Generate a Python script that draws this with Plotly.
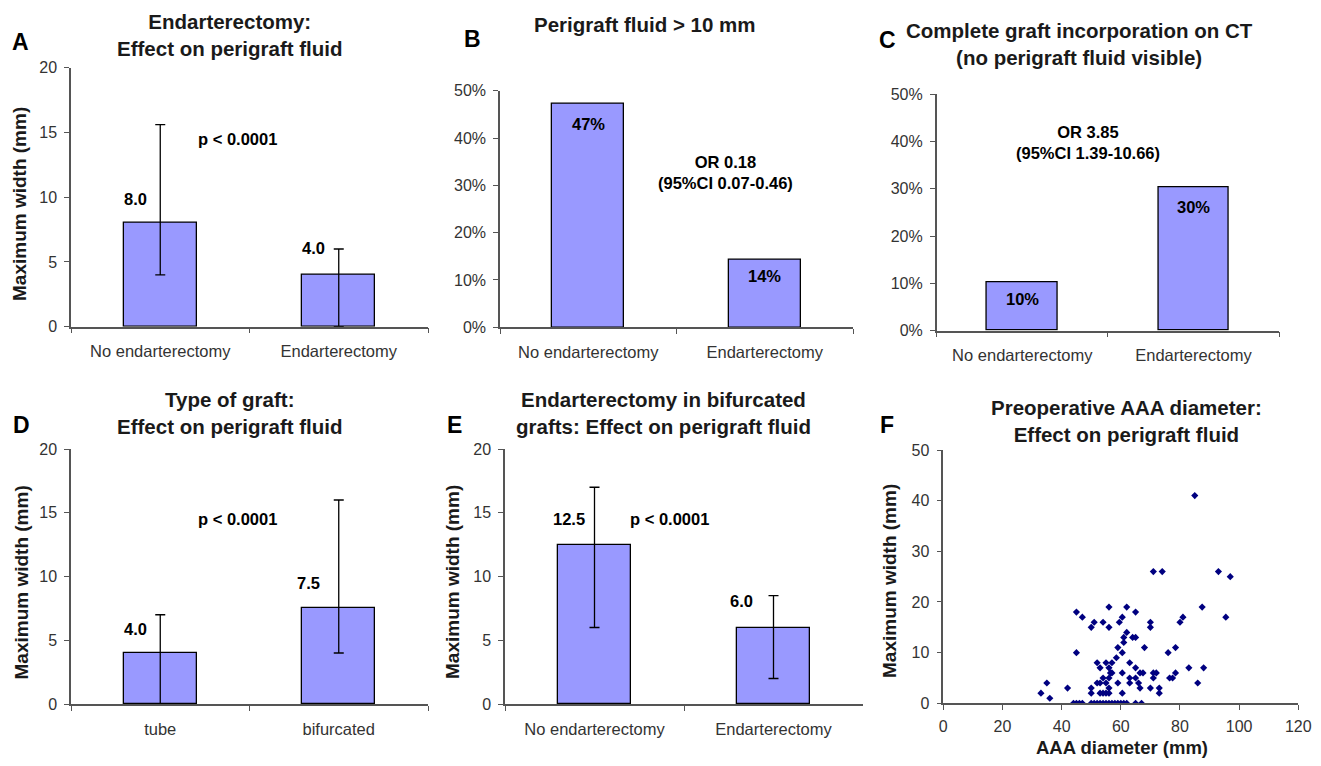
import plotly.graph_objects as go

W, H = 1321, 766          # target picture size
OFF = 8                   # default page margin around the figure div
FW, FH = W - 2 * OFF, H - 2 * OFF

# ---------------- data ----------------
cats_endo = ["No endarterectomy", "Endarterectomy"]
cats_graft = ["tube", "bifurcated"]

a_vals = [8.0, 4.0]
a_hi = [15.6, 6.0]
a_lo = [4.0, 0.0]

b_vals = [0.472, 0.142]
c_vals = [0.102, 0.303]

d_vals = [4.0, 7.5]
d_hi = [7.0, 16.0]
d_lo = [0.0, 4.0]

e_vals = [12.5, 6.0]
e_hi = [17.0, 8.5]
e_lo = [6.0, 2.0]

f_diam = [33, 35, 36, 42, 45, 47, 45,
          44, 45, 46, 47, 50, 51, 52, 53, 54, 55, 56, 57, 58, 59, 60, 61, 62, 65, 67,
          50, 53, 54, 55, 56, 60.5, 73,
          50, 56, 66.5, 70, 73,
          52, 53, 55, 59, 63, 66, 86,
          54, 56, 63, 65, 71, 76.5, 77.5,
          56.5, 57, 60.5, 66.5, 67.5, 71, 72, 78.5,
          53, 56, 65, 83, 88,
          52, 55, 57, 63,
          58.5,
          60.5, 76,
          59, 68, 78.5,
          61,
          61, 64, 65,
          62,
          50, 56, 70,
          51, 54, 59.5, 70, 80,
          60.5, 81, 95.5,
          65,
          56, 62, 87.5,
          97,
          71, 74, 93,
          85]
f_width = [2, 4, 1, 3, 18, 17, 10,
           0, 0, 0, 0, 0, 0, 0, 0, 0, 0, 0, 0, 0, 0, 0, 0, 0, 0, 0,
           2, 2, 2, 2, 2, 2, 2,
           3, 3, 3, 3, 3,
           4, 4, 4, 4, 4, 4, 4,
           5, 5, 5, 5, 5, 5, 5,
           6, 6, 6, 6, 6, 6, 6, 6,
           7, 7, 7, 7, 7,
           8, 8, 8, 8,
           9,
           10, 10,
           11, 11, 11,
           12,
           13, 13, 13,
           14,
           15, 15, 15,
           16, 16, 16, 16, 16,
           17, 17, 17,
           18,
           19, 19, 19,
           25,
           26, 26, 26,
           41]

# ---------------- styling ----------------
FONT = "Liberation Sans, Arial, sans-serif"
BAR_FILL = "#9999FF"
AX_COL = "#555555"
TICK_COL = "#333333"
TXT = "#1a1a1a"


def px_x(x):
    return (x - OFF) / FW


def px_y(y):
    return 1 - (y - OFF) / FH


def dom_x(x0, x1):
    return [px_x(x0), px_x(x1)]


def dom_y(y0, y1):
    return [px_y(y1), px_y(y0)]


panels = {
    1: (dom_x(71, 428), dom_y(67.7, 326.7)),
    2: (dom_x(500, 853), dom_y(90.7, 327.3)),
    3: (dom_x(936.7, 1279), dom_y(94.3, 330.7)),
    4: (dom_x(71, 428), dom_y(449, 704)),
    5: (dom_x(505, 863), dom_y(449, 704)),
    6: (dom_x(943.3, 1298.3), dom_y(450, 703.3)),
}

fig = go.Figure()


def add_bar(i, cats, vals, hi=None, lo=None):
    kw = {}
    if hi is not None:
        kw["error_y"] = dict(type="data", symmetric=False,
                             array=[h - v for h, v in zip(hi, vals)],
                             arrayminus=[v - l for v, l in zip(vals, lo)],
                             color="black", thickness=1.3, width=5)
    fig.add_trace(go.Bar(x=cats, y=vals, width=0.41,
                         marker=dict(color=BAR_FILL, line=dict(color="black", width=1.3)),
                         xaxis=f"x{i}", yaxis=f"y{i}", showlegend=False, **kw))


add_bar(1, cats_endo, a_vals, a_hi, a_lo)
add_bar(2, cats_endo, b_vals)
add_bar(3, cats_endo, c_vals)
add_bar(4, cats_graft, d_vals, d_hi, d_lo)
add_bar(5, cats_endo, e_vals, e_hi, e_lo)

fig.add_trace(go.Scatter(x=f_diam, y=f_width, mode="markers",
                         marker=dict(symbol="diamond", size=5.5, color="#000080"),
                         xaxis="x6", yaxis="y6", showlegend=False))

layout = dict(width=FW, height=FH, margin=dict(l=0, r=0, t=0, b=0),
              paper_bgcolor="white", plot_bgcolor="white",
              font=dict(family=FONT, color=TICK_COL), bargap=0)

common = dict(showline=True, linecolor=AX_COL, linewidth=1.5, ticks="outside",
              ticklen=5, tickwidth=1.3, tickcolor=AX_COL, showgrid=False,
              zeroline=False, fixedrange=True, automargin=False)

for i, (dx, dy) in panels.items():
    xa = dict(common, domain=dx, anchor=f"y{i}")
    ya = dict(common, domain=dy, anchor=f"x{i}",
              tickfont=dict(size=16, color=TICK_COL), ticklabelstandoff=4)
    if i < 6:
        xa.update(type="category", range=[-0.5, 1.5], tickson="boundaries",
                  tickfont=dict(size=16.5, color=TICK_COL), ticklabelstandoff=9)
    else:
        xa.update(range=[0, 120], dtick=20, tickfont=dict(size=16, color=TICK_COL),
                  ticklabelstandoff=3)
    if i in (2, 3):
        ya.update(range=[0, 0.5], dtick=0.1, tickformat=".0%")
    elif i == 6:
        ya.update(range=[0, 50], dtick=10)
    else:
        ya.update(range=[0, 20], dtick=5)
    key = "" if i == 1 else str(i)
    layout["xaxis" + key] = xa
    layout["yaxis" + key] = ya

fig.update_layout(**layout)

ann = []


def data_text(i, x, y, text, size=16.5):
    ann.append(dict(xref=f"x{i}", yref=f"y{i}", x=x, y=y, text=text, showarrow=False,
                    font=dict(size=size, color="black", family=FONT),
                    xanchor="center", yanchor="middle"))


def paper_text(px, py, text, size=20.5, angle=0, color=TXT):
    ann.append(dict(xref="paper", yref="paper", x=px_x(px), y=px_y(py), text=text,
                    showarrow=False, textangle=angle,
                    font=dict(size=size, color=color, family=FONT),
                    xanchor="center", yanchor="middle"))


# value labels
data_text(1, -0.14, 9.9, "<b>%.1f</b>" % a_vals[0])
data_text(1, 0.856, 6.1, "<b>%.1f</b>" % a_vals[1])
data_text(1, 0.43, 14.5, "<b>p &lt; 0.0001</b>")

data_text(2, 0.0, 0.429, "<b>%d%%</b>" % round(b_vals[0] * 100))
data_text(2, 1.0, 0.108, "<b>%d%%</b>" % round(b_vals[1] * 100))
data_text(2, 0.78, 0.327, "<b>OR 0.18<br>(95%CI 0.07-0.46)</b>")

data_text(3, 0.0, 0.067, "<b>%d%%</b>" % round(c_vals[0] * 100))
data_text(3, 1.0, 0.262, "<b>%d%%</b>" % round(c_vals[1] * 100))
data_text(3, 0.385, 0.399, "<b>OR 3.85<br>(95%CI 1.39-10.66)</b>")

data_text(4, -0.14, 5.9, "<b>%.1f</b>" % d_vals[0])
data_text(4, 0.83, 9.5, "<b>%.1f</b>" % d_vals[1])
data_text(4, 0.43, 14.5, "<b>p &lt; 0.0001</b>")

data_text(5, -0.14, 14.5, "<b>%.1f</b>" % e_vals[0])
data_text(5, 0.82, 8.1, "<b>%.1f</b>" % e_vals[1])
data_text(5, 0.42, 14.5, "<b>p &lt; 0.0001</b>")

# titles
paper_text(230, 35, "<b>Endarterectomy:<br>Effect on perigraft fluid</b>")
paper_text(645, 25, "<b>Perigraft fluid &gt; 10 mm</b>")
paper_text(1079, 43.7, "<b>Complete graft incorporation on CT<br>(no perigraft fluid visible)</b>")
paper_text(230, 413.3, "<b>Type of graft:<br>Effect on perigraft fluid</b>")
paper_text(663, 413.3, "<b>Endarterectomy in bifurcated<br>grafts: Effect on perigraft fluid</b>")
paper_text(1126, 420.5, "<b>Preoperative AAA diameter:<br>Effect on perigraft fluid</b>")

# panel letters
for px, py, t in [(20, 42, "A"), (472, 39, "B"), (887, 40, "C"),
                  (22, 425, "D"), (454, 425, "E"), (887, 425, "F")]:
    paper_text(px, py, "<b>%s</b>" % t, size=23, color="black")

# axis titles
for px, py in [(20, 204), (21, 582.5), (452.5, 582.5), (889, 581)]:
    paper_text(px, py, "<b>Maximum width (mm)</b>", size=19, angle=-90)
paper_text(1121.7, 747.5, "<b>AAA diameter (mm)</b>", size=18.5)

fig.update_layout(annotations=ann)
fig.write_html("out.html")
